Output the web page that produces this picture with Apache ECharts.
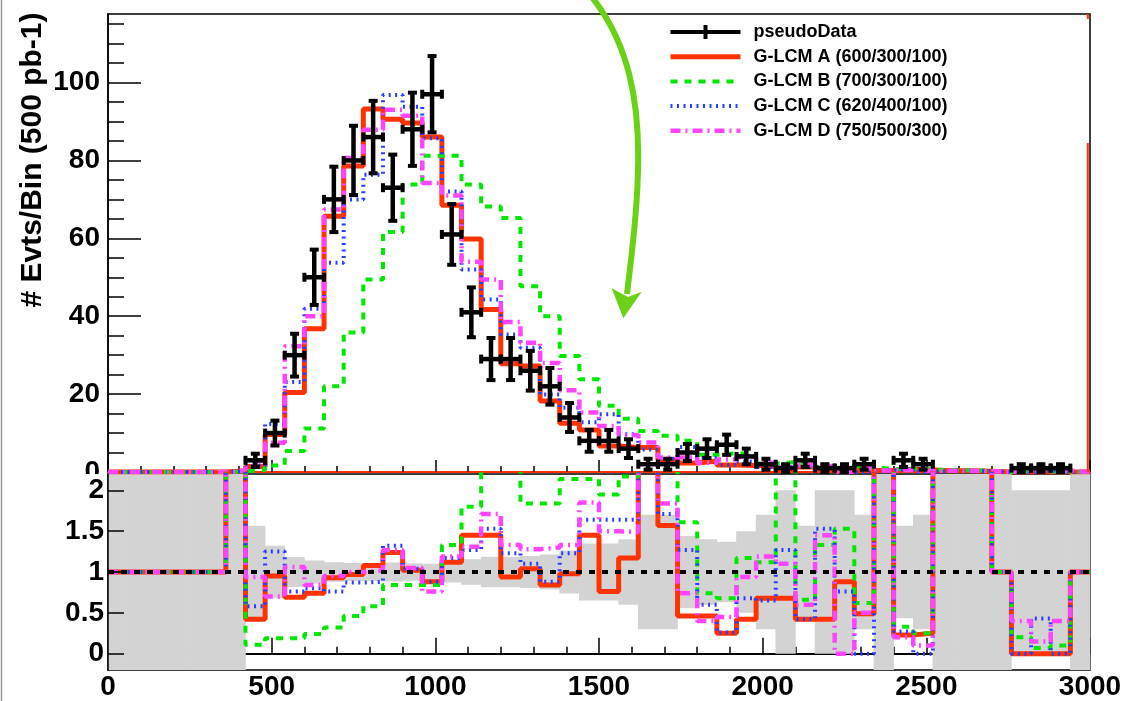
<!DOCTYPE html>
<html>
<head>
<meta charset="utf-8">
<script src="https://cdn.jsdelivr.net/npm/echarts@6/dist/echarts.min.js"></script>
<style>
  html, body { margin: 0; padding: 0; background: #fff; }
  #chart { width: 1126px; height: 701px; }
</style>
</head>
<body>
<div id="chart"></div>
<script>
// 50 bins of 60 GeV from 0 to 3000
const binWidth = 60
const nBins = 50

const pseudoData = [
  0, 0, 0, 0, 0, 0, 0, 3, 10, 30,
  50, 70, 80, 86, 73, 88, 97, 61, 41, 29,
  29, 26, 22, 14, 8, 8, 6, 2, 2, 5,
  6, 7, 4, 2, 1, 3, 1, 1, 2, 0,
  3, 2, 0, 0, 0, 0, 1, 1, 1, 0
]
const dataErr = [
  0, 0, 0, 0, 0, 0, 0, 1.7, 3.2, 5.5,
  7.1, 8.4, 8.9, 9.3, 8.5, 9.4, 9.8, 7.8, 6.4, 5.4,
  5.4, 5.1, 4.7, 3.7, 2.8, 2.8, 2.4, 1.4, 1.4, 2.2,
  2.4, 2.6, 2, 1.4, 1, 1.7, 1, 1, 1.4, 0,
  1.7, 1.4, 0, 0, 0, 0, 1, 1, 1, 0
]
const modelA = [
  0, 0, 0, 0, 0, 0, 0.3, 1.4, 9.6, 20.4,
  36.8, 65.7, 78.6, 93.2, 90.6, 89.6, 86, 68.5, 59.8, 41.7,
  27.8, 27.2, 18.2, 12.5, 10.8, 6.7, 6.3, 6.3, 3.1, 2.3,
  2.8, 1.8, 1.7, 1.4, 0.7, 1.3, 0.4, 0.9, 1, 0.4,
  0.7, 0.5, 0.3, 0.3, 0.2, 0, 0, 0, 0, 0
]
const modelB = [
  0, 0, 0, 0, 0, 0, 0.2, 0.5, 1.7, 5.4,
  11.2, 22, 35.8, 49.4, 61.6, 73.8, 81.2, 81.2, 73.8, 68.2,
  65.2, 47.7, 40, 29.8, 23.8, 17, 13.7, 10.5, 9.3, 8,
  4.4, 4.8, 4.7, 2.2, 2.5, 2, 1.3, 1.5, 1.2, 0.8,
  0.8, 0.6, 0.5, 0.4, 0.3, 0, 0.2, 0.1, 0.1, 0
]
const modelC = [
  0, 0, 0, 0, 0, 0, 0.3, 1.7, 12.3, 23.1,
  41.9, 53.7, 70, 76.3, 96.8, 93.8, 85.7, 72, 52, 44.3,
  35.3, 31.9, 19.9, 16.5, 12.8, 14.8, 9.7, 5.8, 3.4, 6.4,
  3.6, 1.8, 2.7, 1.3, 1.3, 1.3, 1.5, 0.8, 0, 0.4,
  0.8, 0, 0.3, 0.3, 0.2, 0, 0, 0.4, 0, 0
]
const modelD = [
  0, 0, 0, 0, 0, 0, 0.3, 2.8, 7.5, 32.3,
  40, 67.4, 80.6, 87.9, 93, 91.5, 74.2, 71, 54, 49.4,
  38.5, 33.2, 28, 21, 15.3, 11.8, 9.5, 7.6, 3.7, 3.7,
  2.4, 3.2, 3.8, 2.4, 1.1, 1.8, 1.45, 0, 1, 0.4,
  0.5, 0.3, 0.3, 0.3, 0.2, 0, 0.4, 0.2, 0.4, 0
]

// ratio model / data (values above 2.2 run off the top of the pad)
const ratioA = [
  1, 1, 1, 1, 1, 1, 3, 0.42, 0.95, 0.69,
  0.74, 0.93, 0.97, 1.08, 1.24, 1.02, 0.88, 1.12, 1.45, 1.45,
  0.94, 1.04, 0.84, 0.98, 1.45, 0.76, 1.17, 3, 1.57, 0.46,
  0.46, 0.25, 0.42, 0.68, 0.68, 0.42, 0.42, 0.88, 0.49, 3,
  0.23, 0.25, 3, 3, 3, 1, 0, 0, 0, 1
]
const ratioB = [
  1, 1, 1, 1, 1, 1, 3, 0.11, 0.19, 0.19,
  0.24, 0.32, 0.46, 0.58, 0.84, 0.84, 0.84, 1.33, 1.8, 3,
  3, 1.84, 1.84, 2.14, 2.14, 1.95, 2.17, 3, 3, 1.61,
  0.74, 0.68, 1.17, 1.12, 3, 0.66, 1.33, 1.53, 0.62, 3,
  0.33, 0.25, 3, 3, 3, 1, 0.2, 0.07, 0.1, 1
]
const ratioC = [
  1, 1, 1, 1, 1, 1, 3, 0.58, 1.25, 0.76,
  0.8, 0.76, 0.87, 0.88, 1.32, 1.04, 0.88, 1.17, 1.27, 1.53,
  1.23, 1.1, 0.88, 1.23, 1.64, 1.64, 1.64, 3, 1.71, 1.27,
  0.6, 0.26, 0.68, 0.65, 1.27, 0.42, 1.53, 0.76, 0, 3,
  0.27, 0, 3, 3, 3, 1, 0, 0.43, 0, 1
]
const ratioD = [
  1, 1, 1, 1, 1, 1, 3, 0.94, 0.7, 1.06,
  0.84, 0.95, 1.0, 1.02, 1.27, 1.05, 0.76, 1.19, 1.31, 1.71,
  1.33, 1.28, 1.3, 1.33, 1.85, 1.5, 1.49, 3, 1.84, 0.74,
  0.4, 0.45, 0.94, 1.19, 1.1, 0.6, 1.45, 0, 0.5, 3,
  0.2, 0.1, 3, 3, 3, 1, 0.4, 0.15, 0.4, 1
]

const legendNames = ['pseudoData', 'G-LCM A (600/300/100)', 'G-LCM B (700/300/100)',
  'G-LCM C (620/400/100)', 'G-LCM D (750/500/300)']
const yTitle = '# Evts/Bin (500 pb-1)'

const FONT = '"Liberation Sans", Arial, Helvetica, sans-serif'
const colA = '#ff3300', colB = '#00e800', colC = '#2a3cff', colD = '#ff44ff'
const lowMin = -0.2, lowMax = 2.2

// step histogram: one point per lower bin edge plus the closing edge
function histPoints(vals) {
  const pts = vals.map((v, i) => [i * binWidth, v])
  pts.push([nBins * binWidth, vals[vals.length - 1]])
  return pts
}

const errData = []
pseudoData.forEach((n, i) => {
  if (n > 0) errData.push([i * binWidth, (i + 1) * binWidth, n, dataErr[i]])
})

// grey band: relative data error around 1, full height where no data
const bandData = pseudoData.map((n, i) => {
  let lo = lowMin, hi = lowMax
  if (n > 0) {
    lo = Math.max(lowMin, 1 - dataErr[i] / n)
    hi = Math.min(lowMax, 1 + dataErr[i] / n)
  }
  return [i * binWidth, (i + 1) * binWidth, lo, hi]
})

function renderErr(params, api) {
  const lo = api.value(0), hi = api.value(1), n = api.value(2), e = api.value(3)
  const mid = (lo + hi) / 2
  const a = api.coord([lo, n]), b = api.coord([hi, n])
  const t = api.coord([mid, n + e]), u = api.coord([mid, n - e])
  const st = { stroke: '#000', lineWidth: 4.5 }
  return {
    type: 'group',
    children: [
      { type: 'line', shape: { x1: a[0], y1: a[1], x2: b[0], y2: b[1] }, style: st },
      { type: 'line', shape: { x1: t[0], y1: t[1], x2: u[0], y2: u[1] }, style: st },
      { type: 'rect', shape: { x: a[0] - 2, y: a[1] - 4.5, width: 4, height: 9 }, style: { fill: '#000' } },
      { type: 'rect', shape: { x: b[0] - 2, y: b[1] - 4.5, width: 4, height: 9 }, style: { fill: '#000' } },
      { type: 'rect', shape: { x: t[0] - 4.5, y: t[1] - 2, width: 9, height: 4 }, style: { fill: '#000' } },
      { type: 'rect', shape: { x: u[0] - 4.5, y: u[1] - 2, width: 9, height: 4 }, style: { fill: '#000' } }
    ]
  }
}

function renderBand(params, api) {
  const p1 = api.coord([api.value(0), api.value(3)])
  const p2 = api.coord([api.value(1), api.value(2)])
  return {
    type: 'rect',
    shape: { x: p1[0] - 0.3, y: p1[1], width: p2[0] - p1[0] + 0.6, height: p2[1] - p1[1] },
    style: { fill: '#d3d3d3' }
  }
}

function stepSeries(name, vals, color, width, dash, gridIdx) {
  return {
    name: name,
    type: 'line',
    step: 'end',
    xAxisIndex: gridIdx,
    yAxisIndex: gridIdx === 0 ? 0 : 2,
    data: histPoints(vals),
    symbol: 'none',
    showSymbol: false,
    clip: true,
    color: color,
    lineStyle: { color: color, width: width, type: dash, cap: 'butt' }
  }
}

const dashB = [7, 7], dashC = [2, 4.5], dashD = [10, 5, 2, 5]

function legendLine(name, color, width, dash) {
  return { name: name, itemStyle: { opacity: 0 }, lineStyle: { color: color, width: width, type: dash, opacity: 1 } }
}

const axisBold = { color: '#000', fontSize: 28, fontWeight: 'bold', fontFamily: FONT }

const option = {
  animation: false,
  backgroundColor: '#fff',
  grid: [
    { left: 108, top: 14, width: 982, height: 458, show: true, borderColor: '#000', borderWidth: 1.5 },
    { left: 108, top: 474, width: 982, height: 196.7, show: true, borderColor: '#000', borderWidth: 1.5 }
  ],
  legend: {
    orient: 'vertical',
    left: 663,
    top: 18,
    itemWidth: 70,
    itemHeight: 14,
    itemGap: 6.7,
    selectedMode: false,
    textStyle: { color: '#000', fontSize: 18, fontWeight: 'bold', fontFamily: FONT, lineHeight: 18, padding: [0, 0, 0, 8] },
    data: [
      { name: legendNames[0], icon: 'path://M0,5 L70,5 L70,9 L0,9 Z M33,0 L37,0 L37,14 L33,14 Z', itemStyle: { color: '#000', opacity: 1 } },
      legendLine(legendNames[1], colA, 5, 'solid'),
      legendLine(legendNames[2], colB, 4, dashB),
      legendLine(legendNames[3], colC, 4, dashC),
      legendLine(legendNames[4], colD, 4.5, dashD)
    ]
  },
  xAxis: [
    {
      type: 'value', gridIndex: 0, min: 0, max: 3000, interval: 500,
      axisLine: { lineStyle: { color: colA, width: 2 } },
      axisTick: { inside: true, length: 12, lineStyle: { color: '#000', width: 1.5 } },
      minorTick: { show: true, splitNumber: 5, length: 6, lineStyle: { color: '#000', width: 1.5 } },
      axisLabel: { show: false },
      splitLine: { show: false }
    },
    {
      type: 'value', gridIndex: 1, min: 0, max: 3000, interval: 500,
      axisLine: { lineStyle: { color: '#000', width: 2 } },
      axisTick: { inside: true, length: 16, lineStyle: { color: '#000', width: 1.5 } },
      minorTick: { show: true, splitNumber: 5, length: 7, lineStyle: { color: '#000', width: 1.5 } },
      axisLabel: Object.assign({ margin: 3, formatter: v => String(v) }, axisBold),
      splitLine: { show: false }
    }
  ],
  yAxis: [
    {
      type: 'value', gridIndex: 0, min: 0, max: 117.6, z: 0,
      axisLine: { lineStyle: { color: '#000', width: 1.5 } },
      axisTick: { inside: true, length: 33, customValues: [0, 20, 40, 60, 80, 100], lineStyle: { color: '#000', width: 1.5 } },
      axisLabel: Object.assign({ margin: 8, padding: [3, 0, 0, 0], customValues: [0, 20, 40, 60, 80, 100] }, axisBold),
      splitLine: { show: false }
    },
    {
      type: 'value', gridIndex: 0, min: 0, max: 117.6, position: 'left', offset: 0,
      axisLine: { show: false },
      axisTick: { inside: true, length: 16,
        customValues: [5, 10, 15, 25, 30, 35, 45, 50, 55, 65, 70, 75, 85, 90, 95, 105, 110, 115],
        lineStyle: { color: '#000', width: 1.5 } },
      axisLabel: { show: false },
      splitLine: { show: false }
    },
    {
      type: 'value', gridIndex: 1, min: lowMin, max: lowMax, z: 10,
      axisLine: { lineStyle: { color: '#000', width: 1.5 } },
      axisTick: { inside: true, length: 16, customValues: [0, 0.5, 1, 1.5, 2], lineStyle: { color: '#000', width: 1.5 } },
      axisLabel: Object.assign({ margin: 4, padding: [10, 0, 0, 0], customValues: [0, 0.5, 1, 1.5, 2] }, axisBold),
      splitLine: { show: false }
    }
  ],
  graphic: [
    {
      type: 'text', x: 33, y: 160, rotation: Math.PI / 2, z: 5,
      style: { text: yTitle, fill: '#000', font: 'bold 30px ' + FONT, textAlign: 'center', textVerticalAlign: 'middle' }
    },
    { type: 'rect', z: 5, shape: { x: 40, y: 474, width: 67, height: 9 }, style: { fill: '#fff' } },
    // canvas edge and the red histogram edge along the right frame
    { type: 'line', z: 5, shape: { x1: 1.5, y1: 0, x2: 1.5, y2: 701 }, style: { stroke: '#9a9a9a', lineWidth: 1.5 } },
    { type: 'line', z: 5, shape: { x1: 1087.8, y1: 14, x2: 1087.8, y2: 19 }, style: { stroke: colA, lineWidth: 2 } },
    { type: 'line', z: 5, shape: { x1: 1087.8, y1: 143, x2: 1087.8, y2: 472 }, style: { stroke: colA, lineWidth: 2 } },
    {
      type: 'bezierCurve', z: 20,
      shape: { x1: 591, y1: -4, cpx1: 628, cpy1: 42, cpx2: 640, cpy2: 100, x2: 638, y2: 170 },
      style: { stroke: '#6bd016', lineWidth: 6, fill: null }
    },
    {
      type: 'bezierCurve', z: 20,
      shape: { x1: 638, y1: 170, cpx1: 637, cpy1: 220, cpx2: 631, cpy2: 258, x2: 627, y2: 294 },
      style: { stroke: '#6bd016', lineWidth: 6, fill: null }
    },
    {
      type: 'polygon', z: 20,
      shape: { points: [[611.7, 288.3], [628, 297], [641.7, 291.7], [623.3, 318.3]] },
      style: { fill: '#6bd016' }
    }
  ],
  series: [
    stepSeries(legendNames[1], modelA, colA, 5, 'solid', 0),
    stepSeries(legendNames[2], modelB, colB, 4, dashB, 0),
    stepSeries(legendNames[3], modelC, colC, 4, dashC, 0),
    stepSeries(legendNames[4], modelD, colD, 4.5, dashD, 0),
    {
      name: legendNames[0],
      type: 'custom',
      xAxisIndex: 0,
      yAxisIndex: 0,
      color: '#000',
      renderItem: renderErr,
      encode: { x: [0, 1], y: 2 },
      data: errData,
      z: 5
    },
    {
      name: 'band',
      type: 'custom',
      xAxisIndex: 1,
      yAxisIndex: 2,
      renderItem: renderBand,
      encode: { x: [0, 1], y: [2, 3] },
      data: bandData,
      z: 1
    },
    stepSeries('ratio A', ratioA, colA, 5, 'solid', 1),
    stepSeries('ratio B', ratioB, colB, 4, dashB, 1),
    stepSeries('ratio C', ratioC, colC, 4, dashC, 1),
    stepSeries('ratio D', ratioD, colD, 4.5, dashD, 1),
    {
      name: 'one',
      type: 'line',
      xAxisIndex: 1,
      yAxisIndex: 2,
      data: [[0, 1], [3000, 1]],
      symbol: 'none',
      lineStyle: { color: '#000', width: 4, type: [6, 7] },
      z: 3
    }
  ]
}

const myChart = echarts.init(document.getElementById('chart'))
myChart.setOption(option)
</script>
</body>
</html>
